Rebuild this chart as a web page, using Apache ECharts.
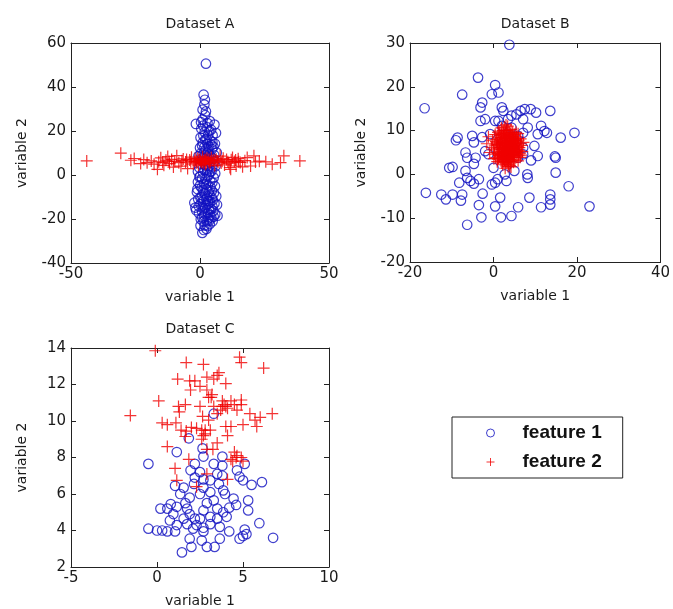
<!DOCTYPE html>
<html>
<head>
<meta charset="utf-8">
<script src="https://cdn.jsdelivr.net/npm/echarts@6/dist/echarts.min.js"></script>
<style>
  html, body { margin: 0; padding: 0; background: #fff; }
  #chart { width: 673px; height: 609px; }
</style>
</head>
<body>
<div id="chart"></div>
<script>
    // Dataset A
    var aFeature1 = [[2.3,50.6],[1.4,36.5],[1.9,34.2],[1.7,32.0],[1.0,29.7],[2.3,28.9],[2.0,27.2],[-1.6,23.2],[1.0,25.2],[2.9,23.6],
        [5.6,22.9],[4.3,20.6],[6.2,19.1],[0.5,21.0],[1.8,19.5],[3.2,18.2],[0.2,17.0],[2.5,16.4],[4.0,15.6],[5.8,14.2],
        [1.1,14.8],[3.3,13.0],[0.0,12.4],[2.2,11.5],[4.7,11.8],[6.5,10.2],[1.4,10.0],[3.6,9.3],[-0.6,8.6],[2.7,8.0],
        [5.0,7.4],[0.8,6.5],[3.9,5.8],[1.9,4.6],[6.0,4.0],[-0.3,3.4],[2.9,2.6],[4.5,1.8],[1.2,1.0],[3.5,0.2],
        [0.0,-0.6],[5.3,-1.2],[2.1,-1.9],[4.0,-2.8],[-0.8,-3.2],[1.5,-3.9],[3.0,-4.7],[5.8,-5.1],[0.6,-5.8],[2.6,-6.5],
        [4.6,-7.2],[-1.2,-7.8],[1.8,-8.4],[3.7,-9.1],[6.3,-9.7],[0.2,-10.3],[2.4,-10.9],[5.0,-11.4],[-2.2,-12.6],[1.0,-12.1],
        [3.3,-13.0],[6.6,-13.5],[-0.5,-14.2],[2.0,-14.8],[4.2,-15.4],[-1.5,-16.0],[0.8,-16.6],[3.0,-17.2],[5.9,-17.9],[1.6,-18.5],
        [4.4,-19.3],[0.3,-20.1],[2.6,-21.0],[3.8,-22.3],[1.8,-22.9],[0.9,-26.3],[2.5,-24.5],[-0.2,-1.0],[3.4,4.0],[4.8,15.0],
        [1.6,7.5],[3.1,-11.8],[6.8,-18.5],[4.9,-21.0],
        [0.4,24.0],[2.6,21.8],[3.8,24.5],[1.2,22.4],[4.9,18.0],[2.0,16.0],[3.6,20.1],[1.3,17.8],[0.8,13.4],[2.9,14.1],
        [4.4,13.6],[5.2,12.8],[1.7,12.6],[3.1,10.6],[0.3,9.8],[2.0,9.0],[4.2,8.5],[5.5,9.1],[1.0,7.8],[3.3,7.0],
        [5.6,6.2],[0.2,5.0],[2.4,4.2],[4.7,3.5],[-0.8,1.6],[1.8,2.2],[3.9,1.4],[5.9,0.7],[0.8,-1.6],[2.9,-0.8],
        [4.8,-3.4],[0.0,-4.8],[2.2,-4.2],[4.1,-5.6],[-1.0,-6.4],[1.3,-7.0],[3.4,-7.6],[5.4,-8.2],[0.8,-9.2],[2.8,-9.8],
        [4.6,-10.4],[-0.7,-11.0],[1.6,-11.5],[3.9,-12.3],[5.6,-12.9],[0.2,-13.3],[2.5,-13.7],[4.8,-14.3],[-1.8,-14.8],[1.2,-15.2],
        [3.5,-15.9],[5.2,-16.3],[-0.4,-17.4],[2.1,-17.8],[4.0,-18.3],[0.9,-19.4],[3.2,-19.8],[5.3,-19.0],[1.4,-21.2],[3.6,-20.7],
        [0.2,-23.0],[2.9,-23.2],[1.5,-25.0]];
    var aFeature2 = [[-43.9,6.4],[-30.7,9.9],[-26.8,6.7],[-25.5,7.5],[-23.0,5.2],[-20.5,5.6],[-17.8,4.9],[-16.5,2.6],[-16.0,6.0],[-15.2,7.8],
        [-14.0,4.4],[-13.2,6.7],[-12.5,8.4],[-11.8,5.2],[-11.0,7.1],[-10.3,3.6],[-9.8,6.2],[-9.0,8.8],[-8.2,5.6],[-7.4,4.0],
        [-6.5,7.3],[-5.6,5.9],[-4.8,2.9],[-4.0,6.8],[-3.3,8.1],[-2.6,5.0],[-1.9,7.4],[-1.2,6.1],[-0.6,4.5],[0.0,7.0],
        [0.5,5.7],[1.0,8.3],[1.6,6.4],[2.1,4.8],[2.7,7.6],[3.2,6.0],[3.8,5.2],[4.4,7.9],[5.0,6.6],[5.7,4.3],
        [6.3,7.2],[7.0,5.8],[7.8,8.6],[8.6,6.3],[9.5,4.6],[10.3,7.0],[11.2,5.4],[11.9,2.6],[12.6,8.0],[13.3,6.1],
        [14.0,4.1],[14.8,7.4],[15.6,5.7],[16.5,3.7],[17.4,6.5],[18.3,7.9],[19.6,4.1],[20.9,8.7],[21.5,5.9],[23.0,6.3],
        [25.5,6.0],[28.0,4.9],[31.2,5.6],[32.5,8.7],[38.7,6.4],[-0.3,6.8],[0.8,6.0],[1.9,7.1],[-1.5,5.5],[2.4,5.5],
        [-18.9,6.4],[-21.8,7.0],[13.8,6.8],[11.6,3.4],[9.0,7.6],
        [-2.0,6.2],[-0.9,7.6],[0.3,6.3],[1.3,5.3],[2.2,6.7],[3.5,7.1],[4.1,6.3],[-3.6,6.0],[5.5,6.9],[6.8,6.4],
        [-5.2,7.0],[-7.0,6.5],[8.2,5.5],[10.8,6.0],[12.1,6.9],[15.0,6.0],[-12.0,6.3],[-14.5,5.7]];

    // Dataset B
    var bFeature1 = [[3.8,29.6],[-3.7,22.1],[0.4,20.4],[1.2,18.7],[-0.4,18.3],[-7.5,18.2],[-16.5,15.1],[-2.7,16.4],[-3.1,15.3],[2.0,15.3],
        [2.35,14.5],[6.5,14.5],[7.5,14.9],[8.9,14.9],[10.2,14.1],[13.6,14.5],[5.5,13.7],[4.3,13.4],[3.5,12.6],[-3.1,12.2],
        [-2.0,12.6],[0.4,12.2],[1.2,12.2],[7.1,12.6],[8.2,10.7],[11.4,11.1],[12.2,9.9],[12.8,9.5],[16.1,8.4],[19.4,9.5],
        [-8.6,8.4],[-9.0,7.8],[-5.1,8.8],[-2.7,8.5],[-4.7,7.3],[-6.7,5.0],[-6.3,3.8],[-4.3,3.8],[-4.7,2.4],[-10.6,1.5],
        [-9.8,1.7],[-6.7,0.8],[-6.3,-0.8],[-5.5,-1.5],[-4.7,-2.1],[-8.2,-1.9],[-3.5,-1.1],[-16.2,-4.2],[-12.5,-4.6],[-11.4,-5.7],
        [-9.8,-4.6],[-7.8,-6.0],[-7.5,-4.6],[-2.6,-4.4],[-0.4,-2.3],[0.4,-1.9],[1.0,-1.1],[3.1,-1.5],[2.7,0.0],[0.0,1.5],
        [5.0,0.8],[5.9,3.8],[9.0,3.2],[10.6,4.2],[8.1,0.0],[8.2,-0.8],[14.9,3.8],[14.7,4.1],[14.9,0.4],[18.0,-2.7],
        [8.6,-5.3],[11.4,-7.5],[13.6,-4.6],[13.6,-5.7],[13.6,-6.9],[23.0,-7.3],[5.9,-7.5],[1.6,-5.3],[0.4,-7.3],[-3.5,-7.0],
        [-2.9,-9.8],[1.8,-9.8],[4.3,-9.5],[-6.3,-11.5],[4.3,10.7],[2.0,11.1],[7.1,9.5],[-0.8,9.2],[5.9,8.8],[7.1,6.1],
        [7.1,4.6],[-1.2,4.6],[-2.0,5.3],[9.8,6.5],[10.6,9.2]];
    var bFeature2 = [[3.3,5.8],[2.1,6.9],[4.5,4.6],[1.4,5.2],[5.2,7.1],[2.8,3.9],[3.9,8.2],[0.6,7.5],[6.1,5.5],[2.4,9.4],
        [4.8,2.8],[1.8,3.1],[3.6,6.4],[2.9,5.1],[4.1,7.0],[1.1,8.3],[5.6,4.0],[3.0,10.1],[-0.5,6.2],[6.8,6.6],
        [2.2,2.2],[4.4,9.0],[3.4,4.3],[1.6,6.1],[5.0,5.9],[2.6,7.8],[4.0,3.4],[0.2,4.6],[3.8,5.3],[2.0,4.4],
        [4.9,8.4],[1.3,9.9],[5.9,3.1],[3.1,7.3],[2.5,6.0],[4.3,5.6],[-1.2,8.6],[6.5,8.1],[3.5,1.8],[1.9,10.6],
        [0.9,2.9],[5.4,9.6],[3.2,8.7],[2.7,4.8],[4.6,6.5],[1.0,6.8],[6.3,4.8],[3.7,3.0],[2.3,8.5],[4.2,10.3],
        [0.4,9.1],[5.7,7.5],[3.0,2.6],[1.7,7.4],[4.7,3.8],[2.0,5.7],[3.9,6.9],[-0.9,5.0],[6.9,5.2],[2.8,9.0],
        [4.5,7.7],[1.5,4.0],[5.3,6.2],[3.3,4.9],[2.4,3.5],[4.0,8.8],[0.7,8.0],[5.8,6.9],[3.6,2.3],[1.2,3.7],
        [4.9,5.0],[2.6,10.8],[3.4,7.6],[2.1,6.3],[4.3,4.2],[0.0,5.6],[6.0,7.8],[3.8,9.6],[1.6,8.9],[5.1,3.3],
        [2.9,6.6],[3.5,5.5],[4.1,6.1],[2.5,5.3],[3.1,6.2],[3.7,4.6],[2.3,7.2],[4.6,5.3],[1.9,4.9],[4.4,8.1],
        [3.2,3.6],[2.7,8.1],[5.5,5.7],[1.4,7.0],[3.9,7.5],[0.5,3.8],[6.4,3.9],[-1.6,7.0],[7.2,7.3],[3.0,11.3],
        [1.0,4.8],[1.5,5.8],[1.9,7.8],[2.2,3.0],[2.4,4.1],[2.6,6.5],[2.8,8.5],[3.0,4.4],[3.2,5.4],[3.3,7.0],
        [3.5,8.2],[3.6,3.7],[3.8,6.1],[4.0,4.9],[4.2,7.4],[4.4,3.1],[4.5,5.9],[4.7,7.2],[4.9,4.3],[5.0,6.6],
        [5.2,8.0],[5.4,5.0],[5.6,6.4],[1.2,6.5],[1.7,4.5],[2.0,9.1],[2.3,5.0],[2.5,2.8],[2.7,7.3],[2.9,4.0],
        [3.1,9.3],[3.4,6.6],[3.6,5.0],[3.8,4.0],[4.0,9.2],[4.2,5.3],[4.3,6.8],[4.6,4.5],[4.8,7.9],[5.1,4.6],
        [5.3,7.7],[5.5,8.6],[1.3,4.3],[1.8,8.4],[2.1,4.6],[2.6,3.3],[3.0,5.8],[3.3,2.9],[3.7,7.9],[4.1,2.6],
        [4.5,8.7],[4.9,6.2],[5.7,5.2],[6.2,6.1],[0.8,6.0],[0.9,7.2],[6.0,4.4],[1.5,9.3],[5.0,9.1],[2.3,10.0],
        [3.5,10.0],[4.6,9.6],[2.0,2.6],[3.9,2.0],[1.0,3.5],[5.8,8.2],[0.3,6.7],[6.6,7.0],[-0.2,7.8],[0.1,3.6],
        [6.6,4.4],[2.8,1.4],[4.2,1.7],[3.4,11.0],[1.1,9.6],[5.9,9.3]];

    // Dataset C
    var cFeature1 = [[-0.5,7.65],[1.15,8.3],[1.85,9.05],[3.3,10.4],[2.65,8.5],[2.7,8.05],[2.2,7.65],[3.3,7.65],[3.8,7.55],[5.1,7.65],
        [4.65,7.3],[1.95,7.3],[2.5,7.2],[3.5,7.1],[3.8,7.0],[4.8,6.95],[5.0,6.75],[6.1,6.65],[5.5,6.5],[1.05,6.45],
        [1.55,6.35],[2.15,6.55],[2.7,6.8],[3.1,6.75],[3.6,6.55],[3.85,6.2],[3.95,6.0],[1.35,6.0],[1.9,5.8],[2.5,6.0],
        [3.1,6.1],[3.3,5.65],[4.45,5.75],[5.3,5.65],[5.3,5.1],[0.8,5.45],[0.6,5.2],[0.2,5.2],[1.15,5.3],[1.75,5.2],
        [1.9,4.9],[2.2,4.65],[2.7,5.1],[2.9,5.5],[3.1,4.75],[3.5,5.2],[3.85,5.0],[4.05,4.75],[4.6,5.4],[0.95,4.9],
        [0.75,4.55],[1.55,4.65],[1.75,4.35],[2.5,4.65],[3.1,4.35],[2.7,4.15],[5.95,4.4],[-0.5,4.1],[0.3,4.0],[0.6,3.95],
        [1.05,3.95],[2.1,4.1],[2.7,3.95],[3.65,4.2],[4.2,3.95],[5.1,4.05],[5.2,3.8],[5.0,3.7],[4.8,3.55],[6.75,3.6],
        [1.9,3.55],[2.6,3.45],[3.65,3.55],[2.0,3.1],[2.9,3.1],[3.35,3.1],[1.45,2.8],[0.0,4.0],[1.15,4.3],[2.3,4.3],
        [3.5,4.65],[4.2,5.25],[1.65,5.5],[2.7,6.35],[2.2,6.9],[3.8,8.05]];
    var cFeature2 = [[-0.1,13.85],[1.7,13.2],[2.7,13.1],[4.8,13.5],[4.9,13.2],[6.2,12.9],[3.6,12.65],[3.5,12.5],[1.2,12.3],[1.9,12.2],
        [2.2,12.2],[2.9,12.4],[3.3,12.3],[4.0,12.05],[1.95,11.7],[2.5,11.9],[2.9,11.7],[3.2,11.45],[3.15,11.3],[0.1,11.1],
        [3.8,11.1],[4.3,11.1],[4.9,11.15],[4.9,10.9],[1.25,10.8],[1.65,10.9],[2.5,10.8],[3.3,10.8],[4.0,10.8],[4.1,10.7],
        [4.5,10.9],[-1.55,10.3],[2.65,10.25],[3.0,10.05],[3.5,10.4],[4.65,10.6],[5.4,10.4],[6.7,10.4],[6.0,10.2],[0.3,9.9],
        [0.6,9.8],[1.1,9.9],[1.4,9.5],[1.7,9.45],[2.0,9.65],[2.3,9.6],[2.6,9.5],[2.8,9.5],[3.1,9.5],[2.7,9.2],
        [4.3,9.7],[5.0,9.8],[5.8,9.7],[5.7,10.05],[4.1,9.2],[3.5,8.8],[0.6,8.6],[1.65,9.15],[2.9,8.45],[4.5,8.3],
        [4.65,8.1],[4.9,8.0],[4.3,7.9],[5.0,7.8],[1.05,7.4],[1.85,7.9],[1.15,6.75],[2.3,6.4],[2.9,7.1],[4.1,6.8],
        [3.25,8.45],[3.8,10.8],[3.9,10.9],[3.7,10.6],[4.0,9.7],[2.8,9.3],[2.6,9.0],[4.6,8.0],[4.4,7.8],[3.0,11.3],
        [1.3,10.5]];

    // axis ranges: [min, max, interval]
    var aX = [-50, 50, 50], aY = [-40, 60, 20];
    var bX = [-20, 40, 20], bY = [-20, 30, 10];
    var cX = [-5, 10, 5], cY = [2, 14, 2];

    var blue = '#1010c0';
    var red = '#f00000';
    var plus = 'path://M6,0L6,12M0,6L12,6';
    var font = 'DejaVu Sans';

    var grids = [
        {left: 71, top: 43, width: 258, height: 220},
        {left: 410, top: 43, width: 258, height: 219},
        {left: 71, top: 348, width: 258, height: 219}
    ];

    function mainX(g, r) {
        return {
            gridIndex: g, type: 'value', min: r[0], max: r[1], interval: r[2], position: 'bottom',
            name: 'variable 1', nameLocation: 'middle', nameGap: 27,
            nameTextStyle: {color: '#1a1a1a', fontSize: 14, fontFamily: font},
            axisLine: {onZero: false, lineStyle: {color: '#222', width: 1}},
            axisTick: {inside: true, length: 5, lineStyle: {color: '#222'}},
            axisLabel: {color: '#1a1a1a', fontSize: 15, fontFamily: font, margin: 4, showMinLabel: true, showMaxLabel: true},
            splitLine: {show: false}
        };
    }
    function topX(g, r, title) {
        return {
            gridIndex: g, type: 'value', min: r[0], max: r[1], interval: r[2], position: 'top',
            name: title, nameLocation: 'middle', nameGap: 12,
            nameTextStyle: {color: '#1a1a1a', fontSize: 14, fontFamily: font},
            axisLine: {onZero: false, lineStyle: {color: '#222', width: 1}},
            axisTick: {inside: true, length: 5, lineStyle: {color: '#222'}},
            axisLabel: {show: false},
            splitLine: {show: false}
        };
    }
    function mainY(g, r) {
        return {
            gridIndex: g, type: 'value', min: r[0], max: r[1], interval: r[2], position: 'left',
            name: 'variable 2', nameLocation: 'middle', nameGap: 42, nameRotate: 90,
            nameTextStyle: {color: '#1a1a1a', fontSize: 14, fontFamily: font},
            axisLine: {onZero: false, lineStyle: {color: '#222', width: 1}},
            axisTick: {inside: true, length: 5, lineStyle: {color: '#222'}},
            axisLabel: {color: '#1a1a1a', fontSize: 15, fontFamily: font, margin: 5, showMinLabel: true, showMaxLabel: true},
            splitLine: {show: false}
        };
    }
    function rightY(g, r) {
        return {
            gridIndex: g, type: 'value', min: r[0], max: r[1], interval: r[2], position: 'right',
            axisLine: {onZero: false, lineStyle: {color: '#222', width: 1}},
            axisTick: {inside: true, length: 5, lineStyle: {color: '#222'}},
            axisLabel: {show: false},
            splitLine: {show: false}
        };
    }

    function circles(axis, data) {
        return {
            name: 'feature 1', type: 'scatter', xAxisIndex: axis, yAxisIndex: axis,
            symbol: 'circle', symbolSize: 9.5, data: data, silent: true,
            itemStyle: {color: 'transparent', borderColor: blue, borderWidth: 1.2}
        };
    }
    function crosses(axis, data) {
        return {
            name: 'feature 2', type: 'scatter', xAxisIndex: axis, yAxisIndex: axis,
            symbol: plus, symbolSize: 12, data: data, silent: true,
            itemStyle: {color: 'transparent', borderColor: red, borderWidth: 1.2}
        };
    }

    var myChart = echarts.init(document.getElementById('chart'));
    var option = {
        backgroundColor: '#fff',
        animation: false,
        grid: grids,
        xAxis: [mainX(0, aX), topX(0, aX, 'Dataset A'), mainX(1, bX), topX(1, bX, 'Dataset B'), mainX(2, cX), topX(2, cX, 'Dataset C')],
        yAxis: [mainY(0, aY), rightY(0, aY), mainY(1, bY), rightY(1, bY), mainY(2, cY), rightY(2, cY)],
        legend: {
            orient: 'vertical', left: 452, top: 417,
            padding: [6, 21, 6, 34], itemGap: 9,
            itemWidth: 54, itemHeight: 8,
            borderColor: '#222', borderWidth: 1,
            textStyle: {fontFamily: 'Liberation Sans', fontWeight: 'bold', fontSize: 19, color: '#111', lineHeight: 20},
            data: [
                {name: 'feature 1', icon: 'circle', itemStyle: {color: 'transparent', borderColor: blue, borderWidth: 1}},
                {name: 'feature 2', icon: plus, itemStyle: {color: 'transparent', borderColor: red, borderWidth: 1}}
            ]
        },
        series: [
            circles(0, aFeature1), crosses(0, aFeature2),
            circles(2, bFeature1), crosses(2, bFeature2),
            circles(4, cFeature1), crosses(4, cFeature2)
        ]
    };
    myChart.setOption(option);
</script>
</body>
</html>
